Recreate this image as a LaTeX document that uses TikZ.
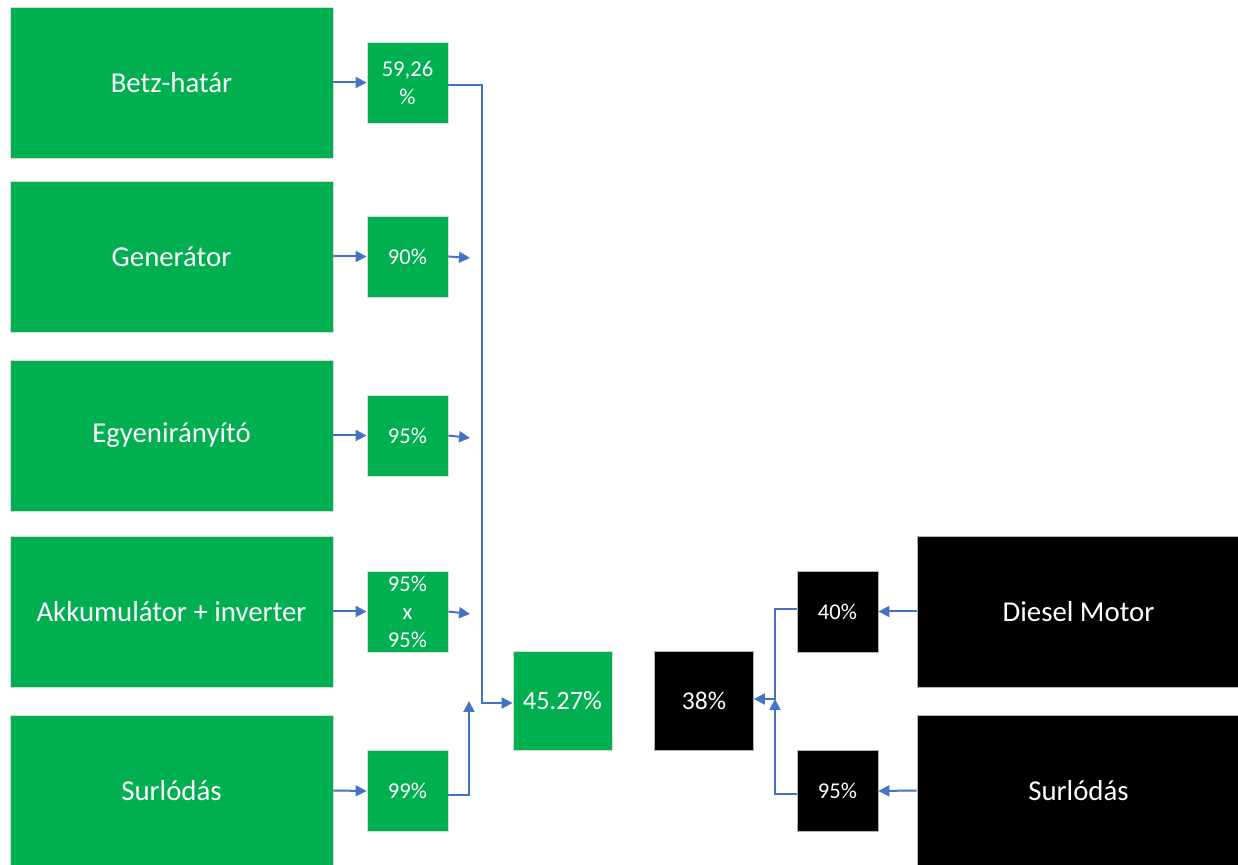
\documentclass[tikz,border=0pt]{standalone}
\usepackage{fontspec}
\setmainfont{Carlito}
\usetikzlibrary{arrows.meta}
\definecolor{offgreen}{HTML}{00B050}
\definecolor{lineblue}{HTML}{4472C4}
\tikzset{
  bigbox/.style={fill=offgreen, draw=black!15, line width=0.4pt, minimum width=161.5pt, minimum height=75.5pt, text=white, font=\fontsize{14.4}{17}\selectfont, inner sep=0pt},
  smallbox/.style={fill=offgreen, draw=black!15, line width=0.4pt, minimum width=40.5pt, minimum height=40.5pt, text=white, font=\fontsize{11.3}{14}\selectfont, align=center, inner sep=0pt},
  resbox/.style={fill=offgreen, draw=black!15, line width=0.4pt, minimum width=49.5pt, minimum height=49.5pt, text=white, font=\fontsize{13.2}{16}\selectfont, inner sep=0pt},
  blackbig/.style={bigbox, fill=black, draw=black!30},
  blacksmall/.style={smallbox, fill=black, draw=black!30},
  blackres/.style={resbox, fill=black, draw=black!30, font=\fontsize{12.8}{16}\selectfont},
  conn/.style={draw=lineblue, line width=1pt, -{Triangle[length=5.5pt,width=5.5pt]}},
}
\begin{document}
\begin{tikzpicture}[x=0.5pt, y=-0.5pt]
\useasboundingbox (0,0) rectangle (1238,865);
% green column
\node[bigbox] (b1) at (171.5,82.5) {Betz-határ};
\node[bigbox] (b2) at (171.5,256.5) {Generátor};
\node[bigbox] (b3) at (171.5,435.5) {Egyenirányító};
\node[bigbox] (b4) at (171.5,611.5) {Akkumulátor + inverter};
\node[bigbox] (b5) at (171.5,790.5) {Surlódás};
\node[smallbox] (s1) at (407.5,82.5) {59,26\\\%};
\node[smallbox] (s2) at (407.5,256.5) {90\%};
\node[smallbox] (s3) at (407.5,435.5) {95\%};
\node[smallbox] (s4) at (407.5,611.5) {95\%\\x\\95\%};
\node[smallbox] (s5) at (407.5,791) {99\%};
\node[resbox] (res) at (562.5,700.5) {45.27\%};
% black column
\node[blackbig] (dm) at (1078.5,611.5) {Diesel Motor};
\node[blackbig] (sf) at (1078.5,790.5) {Surlódás};
\node[blacksmall] (p40) at (837.5,611.5) {40\%};
\node[blacksmall] (p95) at (837.5,791) {95\%};
\node[blackres] (r38) at (704,700.5) {38\%};
% free ends
\coordinate (e2) at (470,258);
\coordinate (e3) at (470,438);
\coordinate (e4) at (470,614);
\coordinate (j1) at (482,703);
\coordinate (j5) at (469,701);
\coordinate (k) at (775,699);
% connectors green
\draw[conn] (b1.east) -- (s1.west);
\draw[conn] (b2.east) -- (s2.west);
\draw[conn] (b3.east) -- (s3.west);
\draw[conn] (b4.east) -- (s4.west);
\draw[conn] (b5.east) -- (s5.west);
\draw[conn] (s2.east) -- (e2);
\draw[conn] (s3.east) -- (e3);
\draw[conn] (s4.east) -- (e4);
\draw[conn] ([yshift=-1.25pt]s1.east) -| (j1) -- (res.west |- j1);
\draw[conn] ([yshift=-2pt]s5.east) -| (j5);
% connectors black
\draw[conn] (dm.west) -- (p40.east);
\draw[conn] (sf.west) -- (p95.east);
\draw[conn] ([yshift=1pt]p40.west) -| (k) -- (r38.east |- k);
\draw[conn] ([yshift=-1.5pt]p95.west) -| (k);
\end{tikzpicture}
\end{document}
